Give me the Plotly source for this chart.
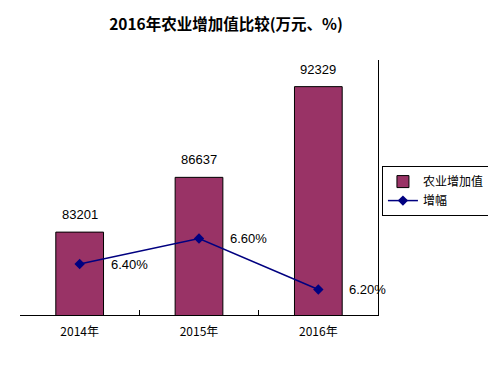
import plotly.graph_objects as go

categories = ["2014年", "2015年", "2016年"]
value_added = [83201, 86637, 92329]
growth = [6.4, 6.6, 6.2]
growth_labels = ["6.40%", "6.60%", "6.20%"]

fig = go.Figure()
fig.add_trace(go.Bar(
    x=categories, y=value_added, name="农业增加值",
    marker=dict(color="#993366", line=dict(color="black", width=1)),
    width=0.4,
))
fig.add_trace(go.Scatter(
    x=categories, y=growth, name="增幅", yaxis="y2", mode="lines+markers",
    line=dict(color="#000080", width=1.5),
    marker=dict(symbol="diamond", size=8, color="#000080"),
))

for c, v in zip(categories, value_added):
    fig.add_annotation(x=c, y=v, text=str(v), showarrow=False, yref="y",
                       yanchor="bottom", yshift=8,
                       font=dict(family="Liberation Sans, Arial", size=13, color="black"))
for c, g, t in zip(categories, growth, growth_labels):
    fig.add_annotation(x=c, y=g, text=t, showarrow=False, yref="y2",
                       xanchor="left", xshift=29, yshift=0,
                       font=dict(family="Liberation Sans, Arial", size=13, color="black"))

fig.update_layout(
    width=488, height=366,
    margin=dict(l=20, r=110, t=60, b=51, autoexpand=False),
    paper_bgcolor="white", plot_bgcolor="white",
    title=dict(text="<b>2016年农业增加值比较(万元、%)</b>", x=226/488, xanchor="center",
               xref="container", yref="container",
               y=1 - 25/366, yanchor="middle",
               font=dict(family="Noto Sans CJK SC", size=15.5, color="black")),
    xaxis=dict(type="category", range=[-0.5, 2.5], showline=True, linecolor="black", linewidth=1,
               ticks="inside", tickson="boundaries", ticklen=5, tickcolor="black",
               ticklabelstandoff=6,
               tickfont=dict(family="Noto Sans CJK SC", size=12, color="black"),
               showgrid=False, automargin=False),
    yaxis=dict(range=[78000, 94000], showline=False, showticklabels=False,
               showgrid=False, zeroline=False, ticks="", automargin=False),
    yaxis2=dict(range=[6, 8], overlaying="y", side="right", showline=True,
                linecolor="black", linewidth=1, showticklabels=False,
                showgrid=False, zeroline=False, ticks="", automargin=False),
    showlegend=True,
    legend=dict(x=1.011, y=0.584, xanchor="left", yanchor="top",
                bordercolor="black", borderwidth=1, bgcolor="white",
                font=dict(family="Noto Sans CJK SC", size=12, color="black"),
                itemwidth=30, tracegroupgap=0),
)

fig.write_html("out.html", config={"displayModeBar": False},
               post_script="document.body.style.margin='0';document.body.style.padding='0';")
